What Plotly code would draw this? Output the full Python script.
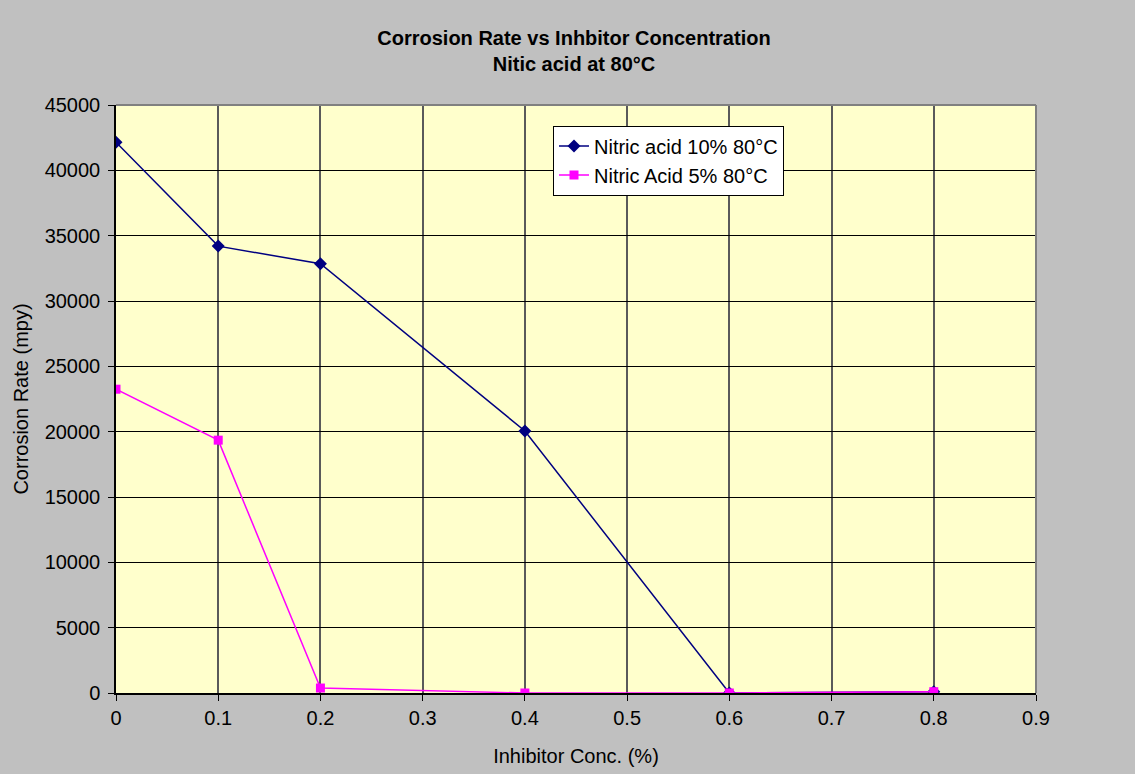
import plotly.graph_objects as go

x_conc = [0, 0.1, 0.2, 0.4, 0.6, 0.8]
rate_10pct = [42150, 34200, 32850, 20050, 0, 100]
rate_5pct = [23250, 19350, 380, 0, 0, 100]
name_10 = "Nitric acid 10% 80°C"
name_5 = "Nitric Acid 5% 80°C"

x_ticks = [0, 0.1, 0.2, 0.3, 0.4, 0.5, 0.6, 0.7, 0.8, 0.9]
y_ticks = list(range(0, 45001, 5000))

FONT = "Liberation Sans, Arial, sans-serif"
FS = 20

fig = go.Figure()
fig.add_trace(go.Scatter(
    x=x_conc, y=rate_10pct, name=name_10, mode="lines+markers",
    line=dict(color="#000080", width=1.5),
    marker=dict(symbol="diamond", size=10, color="#000080"),
))
fig.add_trace(go.Scatter(
    x=x_conc, y=rate_5pct, name=name_5, mode="lines+markers",
    line=dict(color="#FF00FF", width=1.5),
    marker=dict(symbol="square", size=9, color="#FF00FF"),
))

fig.update_layout(
    width=1135, height=774,
    margin=dict(l=116, r=99, t=105, b=81),
    paper_bgcolor="#C0C0C0",
    plot_bgcolor="#FFFFCC",
    font=dict(family=FONT, size=FS, color="#000000"),
    title=dict(
        text="<b>Corrosion Rate vs Inhbitor Concentration<br>Nitic acid at 80°C</b>",
        x=0.5057, xanchor="center", y=0.942, yanchor="top",
        font=dict(family=FONT, size=FS, color="#000000"),
    ),
    showlegend=True,
    legend=dict(
        x=0.475, y=0.965, xanchor="left", yanchor="top",
        bgcolor="#FFFFFF", bordercolor="#000000", borderwidth=1,
        font=dict(family=FONT, size=FS),
        tracegroupgap=0, itemwidth=30,
    ),
    xaxis=dict(
        range=[0, 0.9], tickvals=x_ticks, ticktext=[str(t) for t in x_ticks],
        showgrid=True, gridcolor="#5a5a5a", gridwidth=1.5,
        showline=True, linecolor="#000000", linewidth=1.5,
        ticks="outside", ticklen=6, tickcolor="#000000",
        zeroline=False, mirror=False, automargin=False,
        title=dict(text="Inhibitor Conc. (%)", font=dict(size=FS), standoff=21),
        tickfont=dict(size=FS),
    ),
    yaxis=dict(
        range=[0, 45000], tickvals=y_ticks, ticktext=[str(t) for t in y_ticks],
        showgrid=True, gridcolor="#000000", gridwidth=1,
        showline=True, linecolor="#000000", linewidth=1.5,
        ticks="outside", ticklen=6, tickcolor="#000000",
        ticklabelstandoff=4, automargin=False,
        zeroline=False,
        title=dict(text="Corrosion Rate (mpy)", font=dict(size=FS), standoff=11),
        tickfont=dict(size=FS),
    ),
    shapes=[
        dict(type="line", xref="paper", yref="paper", x0=0, x1=1, y0=1, y1=1,
             line=dict(color="#808080", width=2), layer="above"),
        dict(type="line", xref="paper", yref="paper", x0=1, x1=1, y0=0, y1=1,
             line=dict(color="#808080", width=2), layer="above"),
    ],
)

fig.write_html("out.html")
